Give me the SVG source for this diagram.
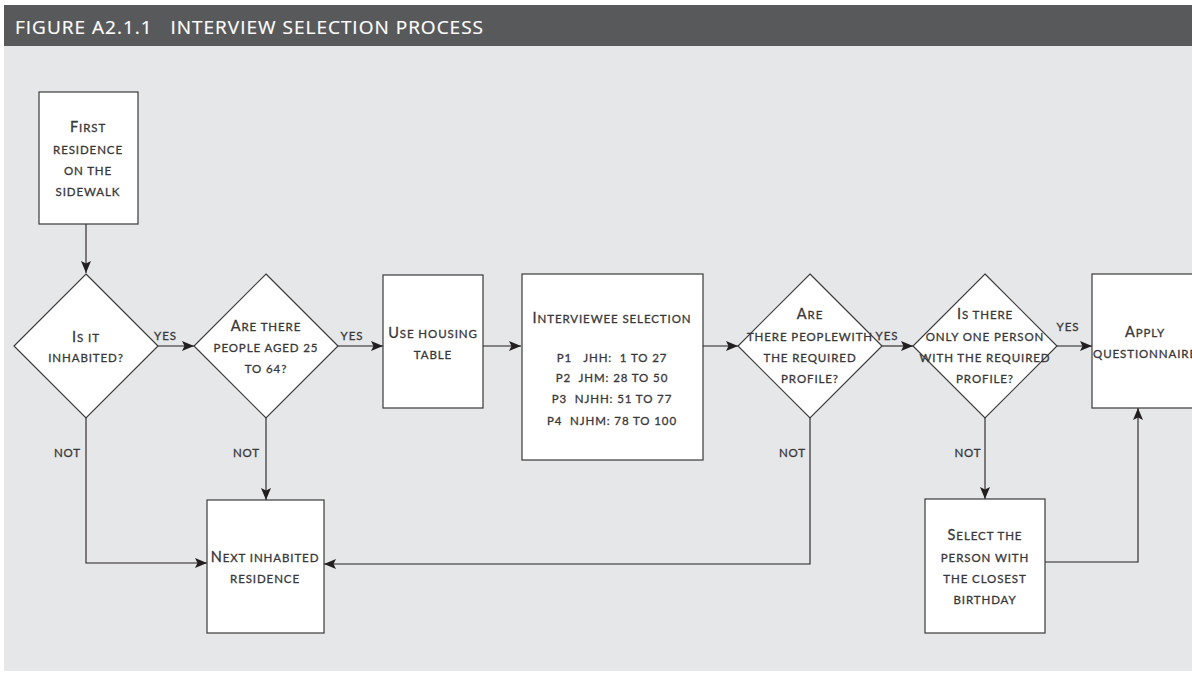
<svg xmlns="http://www.w3.org/2000/svg" width="1192" height="673" viewBox="0 0 1192 673">
<defs>
<style>
.t{font-family:Lato,"Open Sans","DejaVu Sans",sans-serif;font-size:11.5px;letter-spacing:0.9px;fill:#38383a;stroke:#38383a;stroke-width:0.3px;text-anchor:middle}
.c{font-size:14.5px}
.n{fill:#fff;stroke:#3a3a3a;stroke-width:1.2}
.e{fill:none;stroke:#231f20;stroke-width:1.1}
</style>
<marker id="ah" markerUnits="userSpaceOnUse" markerWidth="13" markerHeight="11" refX="12" refY="5" orient="auto">
<path d="M0,0 L12,5 L0,10 L2.5,5 z" fill="#231f20"/>
</marker>
</defs>
<rect x="0" y="0" width="1192" height="673" fill="#fff"/>
<rect x="4" y="46" width="1188" height="625" fill="#e6e7e8"/>
<g id="header">
<rect x="4" y="5" width="1188" height="41" fill="#58595b"/>
<text x="15" y="33.5" font-family="'Open Sans','Liberation Sans',sans-serif" font-size="19" fill="#fff" stroke="#fff" stroke-width="0.2" textLength="468" lengthAdjust="spacing" xml:space="preserve">FIGURE A2.1.1   INTERVIEW SELECTION PROCESS</text>
</g>
<g id="connectors">
<path class="e" d="M86,224 V273" marker-end="url(#ah)"/>
<path class="e" d="M158,346 H194" marker-end="url(#ah)"/>
<path class="e" d="M338,346 H383" marker-end="url(#ah)"/>
<path class="e" d="M483,346 H521" marker-end="url(#ah)"/>
<path class="e" d="M703,346 H738" marker-end="url(#ah)"/>
<path class="e" d="M882,346 H913" marker-end="url(#ah)"/>
<path class="e" d="M1057,346 H1092" marker-end="url(#ah)"/>
<path class="e" d="M86,418 V563 H207" marker-end="url(#ah)"/>
<path class="e" d="M266,418 V500" marker-end="url(#ah)"/>
<path class="e" d="M810,418 V564 H324" marker-end="url(#ah)"/>
<path class="e" d="M985,418 V499" marker-end="url(#ah)"/>
<path class="e" d="M1045,562 H1138 V408" marker-end="url(#ah)"/>
<text class="t" x="165.5" y="340">YES</text>
<text class="t" x="352" y="340">YES</text>
<text class="t" x="887" y="340">YES</text>
<text class="t" x="1068" y="331">YES</text>
<text class="t" x="67.5" y="457">NOT</text>
<text class="t" x="246.5" y="457">NOT</text>
<text class="t" x="792.5" y="457">NOT</text>
<text class="t" x="968" y="457">NOT</text>
</g>
<g id="first">
<rect class="n" x="39" y="92" width="99" height="132"/>
<text class="t" x="88" y="132"><tspan class="c">F</tspan>IRST</text>
<text class="t" x="88" y="154">RESIDENCE</text>
<text class="t" x="88" y="175">ON THE</text>
<text class="t" x="88" y="196">SIDEWALK</text>
</g>
<g id="inhabited">
<path class="n" d="M86,274 L158,346 L86,418 L14,346 Z"/>
<text class="t" x="86" y="342"><tspan class="c">I</tspan>S IT</text>
<text class="t" x="86" y="362">INHABITED?</text>
</g>
<g id="aged">
<path class="n" d="M266,274 L338,346 L266,418 L194,346 Z"/>
<text class="t" x="266" y="331"><tspan class="c">A</tspan>RE THERE</text>
<text class="t" x="266" y="352">PEOPLE AGED 25</text>
<text class="t" x="266" y="373">TO 64?</text>
</g>
<g id="housing">
<rect class="n" x="383" y="275" width="100" height="133"/>
<text class="t" x="433" y="338"><tspan class="c">U</tspan>SE HOUSING</text>
<text class="t" x="433" y="359">TABLE</text>
</g>
<g id="selection">
<rect class="n" x="522" y="274" width="181" height="186"/>
<text class="t" x="612" y="323"><tspan class="c">I</tspan>NTERVIEWEE SELECTION</text>
<text class="t" x="612" y="362" xml:space="preserve">P1   JHH:  1 TO 27</text>
<text class="t" x="612" y="382" xml:space="preserve">P2  JHM: 28 TO 50</text>
<text class="t" x="612" y="403" xml:space="preserve">P3  NJHH: 51 TO 77</text>
<text class="t" x="612" y="425" xml:space="preserve">P4  NJHM: 78 TO 100</text>
</g>
<g id="profile">
<path class="n" d="M810,274 L882,346 L810,418 L738,346 Z"/>
<text class="t" x="810" y="319"><tspan class="c">A</tspan>RE</text>
<text class="t" x="810" y="341">THERE PEOPLEWITH</text>
<text class="t" x="810" y="362">THE REQUIRED</text>
<text class="t" x="810" y="383">PROFILE?</text>
</g>
<g id="onlyone">
<path class="n" d="M985,274 L1057,346 L985,418 L913,346 Z"/>
<text class="t" x="985" y="319"><tspan class="c">I</tspan>S THERE</text>
<text class="t" x="985" y="341">ONLY ONE PERSON</text>
<text class="t" x="985" y="362">WITH THE REQUIRED</text>
<text class="t" x="985" y="383">PROFILE?</text>
</g>
<g id="apply">
<rect class="n" x="1092" y="274" width="110" height="134"/>
<text class="t" x="1145" y="337"><tspan class="c">A</tspan>PPLY</text>
<text class="t" x="1145" y="358">QUESTIONNAIRE</text>
</g>
<g id="next">
<rect class="n" x="207" y="500" width="117" height="133"/>
<text class="t" x="265" y="562"><tspan class="c">N</tspan>EXT INHABITED</text>
<text class="t" x="265" y="583">RESIDENCE</text>
</g>
<g id="birthday">
<rect class="n" x="925" y="499" width="120" height="134"/>
<text class="t" x="985" y="540"><tspan class="c">S</tspan>ELECT THE</text>
<text class="t" x="985" y="562">PERSON WITH</text>
<text class="t" x="985" y="583">THE CLOSEST</text>
<text class="t" x="985" y="604">BIRTHDAY</text>
</g>
</svg>
